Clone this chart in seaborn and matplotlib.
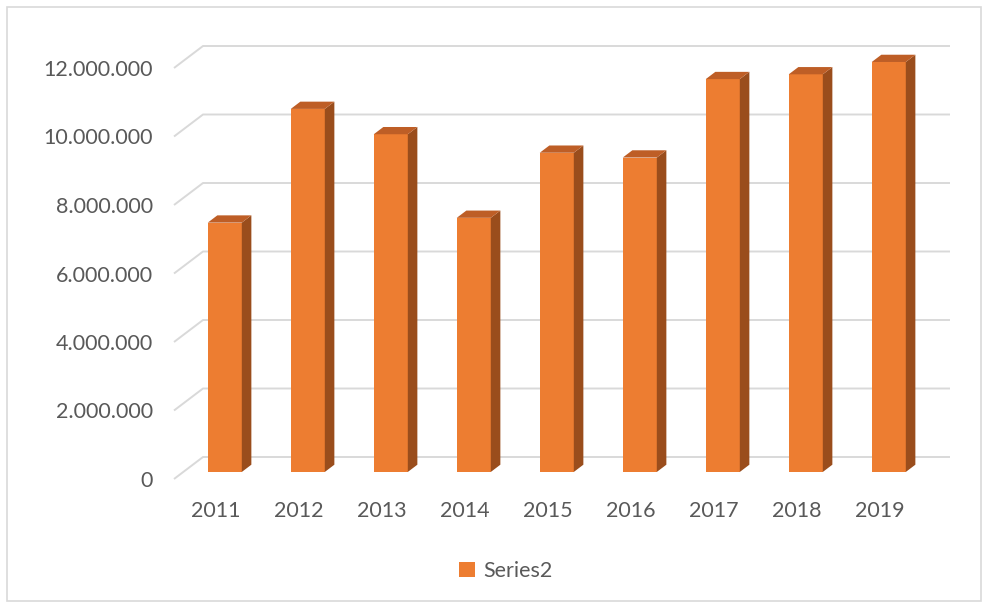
import matplotlib
matplotlib.use("Agg")
import matplotlib.pyplot as plt
import seaborn as sns
import numpy as np
import pandas as pd
from matplotlib.patches import Polygon, Rectangle, Patch
from matplotlib.transforms import ScaledTranslation
from matplotlib.ticker import FuncFormatter

# ---- data ----
years = ["2011", "2012", "2013", "2014", "2015", "2016", "2017", "2018", "2019"]
values = [7280000, 10600000, 9860000, 7420000, 9320000, 9180000, 11470000, 11610000, 11970000]
y_ticks = [0, 2000000, 4000000, 6000000, 8000000, 10000000, 12000000]
series_name = "Series2"

FRONT = "#ED7D31"
SIDE = "#9A4D1C"
TOP = "#BE5E26"
GRID = "#D9D9D9"
TEXT = "#595959"

sns.set_theme(style="white")
plt.rcParams["font.family"] = ["Lato", "DejaVu Sans"]

W, H, DPI = 991, 606, 100
fig = plt.figure(figsize=(W / DPI, H / DPI), dpi=DPI)
fig.patch.set_facecolor("white")

# axes = front plane of the 3D box (pixel geometry)
left_px, right_px, top_px, bottom_px = 174, 921, 68, 479
ax = fig.add_axes([left_px / W, 1 - bottom_px / H, (right_px - left_px) / W, (bottom_px - top_px) / H])

df = pd.DataFrame({"year": years, "value": values})
sns.barplot(data=df, x="year", y="value", color=FRONT, saturation=1, width=0.41, ax=ax, zorder=3)
ax.set_xlim(-0.5, len(years) - 0.5)
ax.set_ylim(0, 12000000)

# depth vectors in pixels (display: y up)
DEPTH = np.array([29.0, 22.0])     # full box depth
BAR_START = 0.32                   # bar front at fraction of depth
BAR_LEN = 0.33                     # bar depth fraction

for s in ax.spines.values():
    s.set_visible(False)
ax.set_yticks(y_ticks)
ax.yaxis.set_major_formatter(FuncFormatter(lambda v, p: f"{int(v):,}".replace(",", ".")))
ax.tick_params(axis="y", length=0, pad=15, labelsize=15.5, labelcolor=TEXT)
ax.tick_params(axis="x", length=0, pad=16, labelsize=15.5, labelcolor=TEXT)
ax.set_xlabel("")
ax.set_ylabel("")
ax.grid(False)

fig.canvas.draw()
td = ax.transData
inv = td.inverted()

def to_data(pts):
    return inv.transform(np.asarray(pts))

# gridlines: left wall diagonal + back wall horizontal
x0, x1 = ax.get_xlim()
for yv in y_ticks:
    pf = td.transform((x0, yv))
    pb = pf + DEPTH
    pe = td.transform((x1, yv)) + DEPTH
    pts = to_data([pf, pb, pe])
    ax.plot(pts[:, 0], pts[:, 1], color=GRID, lw=1.4, zorder=1, clip_on=False, solid_capstyle="butt")

# 3D bars: shift the seaborn front faces and add side/top faces
off = DEPTH * BAR_START
dv = DEPTH * BAR_LEN
for patch in list(ax.patches):
    bx, by = patch.get_x(), patch.get_y()
    bw, bh = patch.get_width(), patch.get_height()
    bl = td.transform((bx, by)) + off
    tr = td.transform((bx + bw, by + bh)) + off
    br = np.array([tr[0], bl[1]])
    tl = np.array([bl[0], tr[1]])
    patch.set_transform(td + ScaledTranslation(off[0] / DPI, off[1] / DPI, fig.dpi_scale_trans))
    patch.set_clip_on(False)
    patch.set_edgecolor("none")
    side = to_data([br, tr, tr + dv, br + dv])
    top = to_data([tl, tr, tr + dv, tl + dv])
    ax.add_patch(Polygon(side, closed=True, facecolor=SIDE, edgecolor="none", zorder=3, clip_on=False))
    ax.add_patch(Polygon(top, closed=True, facecolor=TOP, edgecolor="none", zorder=3, clip_on=False))

# legend
handle = Patch(facecolor=FRONT, edgecolor="none", label=series_name)
fig.legend(handles=[handle], loc="center", bbox_to_anchor=(506 / W, 1 - 571 / H),
           frameon=False, fontsize=15.5, labelcolor=TEXT, handlelength=0.75, handleheight=0.75,
           handletextpad=0.4)

# outer chart border
fig.add_artist(Rectangle((7 / W, 1 - 601 / H), (981 - 7) / W, (601 - 7) / H,
                         transform=fig.transFigure, fill=False, edgecolor=GRID, lw=1.2))

fig.savefig("out.png", dpi=DPI)
